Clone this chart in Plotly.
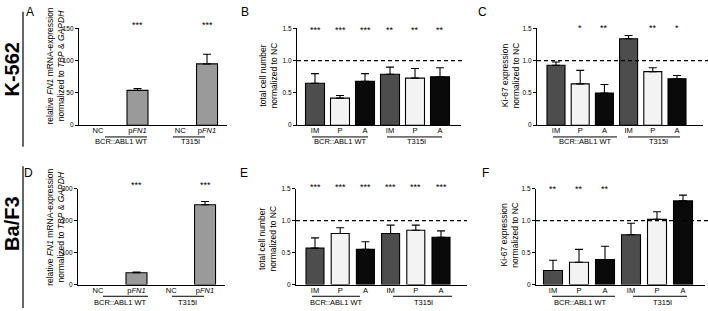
import plotly.graph_objects as go

W, H = 708, 311
FONT = "Arial, 'Liberation Sans', Helvetica, sans-serif"

# ---------------- data ----------------
fn1_cats = ["NC", "p<i>FN1</i>", "NC", "p<i>FN1</i>"]
drug_cats = ["IM", "P", "A", "IM", "P", "A"]
group_names = ["BCR::ABL1 WT", "T315I"]

a_vals = [0, 54, 0, 95]
a_err = [0, 3, 0, 15]
a_stars = ["", "***", "", "***"]

b_vals = [0.65, 0.42, 0.68, 0.79, 0.73, 0.75]
b_err = [0.15, 0.04, 0.12, 0.11, 0.15, 0.14]
b_stars = ["***", "***", "***", "**", "**", "**"]

c_vals = [0.93, 0.64, 0.50, 1.34, 0.83, 0.72]
c_err = [0.05, 0.21, 0.13, 0.05, 0.06, 0.05]
c_stars = ["", "*", "**", "", "**", "*"]

d_vals = [0, 37, 0, 250]
d_err = [0, 2, 0, 10]
d_stars = ["", "***", "", "***"]

e_vals = [0.57, 0.80, 0.55, 0.80, 0.85, 0.74]
e_err = [0.16, 0.09, 0.12, 0.13, 0.08, 0.10]
e_stars = ["***", "***", "***", "***", "***", "***"]

f_vals = [0.22, 0.35, 0.39, 0.78, 1.02, 1.31]
f_err = [0.16, 0.20, 0.21, 0.18, 0.12, 0.09]
f_stars = ["**", "**", "**", "", "", ""]

fn1_title = "relative <i>FN1</i> mRNA-expression<br>normalized to <i>TBP</i> &amp; <i>GAPDH</i>"
cell_title = "total cell number<br>normalized to NC"
ki_title = "Ki-67 expression<br>normalized to NC"
row_labels = ["K-562", "Ba/F3"]

# ---------------- styles / layout ----------------
FN1_COLORS = ["#9a9a9a"] * 4
DRUG_COLORS = ["#4d4d4d", "#f3f3f3", "#0a0a0a"] * 2


def px(x):
    return x / W


def py(y):
    return 1 - y / H


panels = [
    dict(letter="A", vals=a_vals, err=a_err, stars=a_stars, cats=fn1_cats, colors=FN1_COLORS,
         x0=79, x1=227, top=25, bottom=124, c0=98, s=39.5, slots=[0, 1, 2.08, 2.76], barw=21,
         ymax=150, yticks=[0, 50, 100, 150], yticktext=["0", "50", "100", "150"],
         title=fn1_title, tx=56, ty=64, lx=30, ly=8, stary=18, dash=None,
         glines=[(105, 147), (173, 205)], glab=[121, 190], gly=136, gty=141),
    dict(letter="B", vals=b_vals, err=b_err, stars=b_stars, cats=drug_cats, colors=DRUG_COLORS,
         x0=297, x1=461, top=25, bottom=124, c0=315, s=25, slots=[0, 1, 2, 3, 4, 5], barw=19,
         ymax=1.5, yticks=[0, 0.5, 1.0, 1.5], yticktext=["0", "0.5", "1.0", "1.5"],
         title=cell_title, tx=268, ty=73, lx=245, ly=8, stary=24, dash=(297, 463),
         glines=[(312, 368), (387, 442)], glab=[340, 416], gly=136, gty=141),
    dict(letter="C", vals=c_vals, err=c_err, stars=c_stars, cats=drug_cats, colors=DRUG_COLORS,
         x0=537, x1=703, top=25, bottom=124, c0=556, s=24.2, slots=[0, 1, 2, 3, 4, 5], barw=18,
         ymax=1.5, yticks=[0, 0.5, 1.0, 1.5], yticktext=["0", "0.5", "1.0", "1.5"],
         title=ki_title, tx=510, ty=73, lx=483, ly=8, stary=22, dash=(537, 708),
         glines=[(553, 617), (628, 680)], glab=[585, 658], gly=136, gty=141),
    dict(letter="D", vals=d_vals, err=d_err, stars=d_stars, cats=fn1_cats, colors=FN1_COLORS,
         x0=78, x1=225, top=189, bottom=287, c0=98, s=38.5, slots=[0, 1, 1.9, 2.78], barw=21,
         ymax=300, yticks=[0, 100, 200, 300], yticktext=["0", "100", "200", "300"],
         title=fn1_title, tx=56, ty=229, lx=29, ly=173, stary=182, dash=None,
         glines=[(103, 148), (172, 204)], glab=[120, 187], gly=299, gty=305),
    dict(letter="E", vals=e_vals, err=e_err, stars=e_stars, cats=drug_cats, colors=DRUG_COLORS,
         x0=296, x1=467, top=189, bottom=287, c0=315, s=25.2, slots=[0, 1, 2, 3, 4, 5], barw=18,
         ymax=1.5, yticks=[0, 0.5, 1.0, 1.5], yticktext=["0", "0.5", "1.0", "1.5"],
         title=cell_title, tx=268, ty=240, lx=244, ly=173, stary=184, dash=(296, 467),
         glines=[(312, 360), (393, 452)], glab=[336, 423], gly=299, gty=305),
    dict(letter="F", vals=f_vals, err=f_err, stars=f_stars, cats=drug_cats, colors=DRUG_COLORS,
         x0=536, x1=705, top=189, bottom=287, c0=553, s=26, slots=[0, 1, 2, 3, 4, 5], barw=19,
         ymax=1.5, yticks=[0, 0.5, 1.0, 1.5], yticktext=["0", "0.5", "1.0", "1.5"],
         title=ki_title, tx=510, ty=236, lx=485, ly=173, stary=186, dash=(536, 708),
         glines=[(552, 615), (633, 687)], glab=[580, 662], gly=299, gty=305),
]

fig = go.Figure()
annotations = []
shapes = []
layout_axes = {}

for i, p in enumerate(panels):
    k = "" if i == 0 else str(i + 1)
    xr = [(p["x0"] - p["c0"]) / p["s"], (p["x1"] - p["c0"]) / p["s"]]
    width_units = p["barw"] / p["s"]
    # zero-valued bars (NC) are not visible in the figure
    y_plot = [v if v else None for v in p["vals"]]
    err_up = [e if v else None for v, e in zip(p["vals"], p["err"])]
    err_dn = [0 if v else None for v in p["vals"]]
    fig.add_trace(go.Bar(
        x=p["slots"], y=y_plot, width=width_units,
        marker=dict(color=p["colors"], line=dict(color="black", width=1.1)),
        error_y=dict(type="data", symmetric=False, array=err_up,
                     arrayminus=err_dn, color="black", thickness=1.1, width=4),
        xaxis="x" + k, yaxis="y" + k, showlegend=False, hoverinfo="skip",
    ))
    layout_axes["xaxis" + k] = dict(
        domain=[px(p["x0"]), px(p["x1"])], range=xr, anchor="y" + k,
        showline=True, linecolor="black", linewidth=1.3, ticks="",
        tickmode="array", tickvals=p["slots"], ticktext=p["cats"],
        tickfont=dict(size=7.5, color="black", family=FONT), ticklabelstandoff=-2,
        showgrid=False, zeroline=False, fixedrange=True,
    )
    layout_axes["yaxis" + k] = dict(
        domain=[py(p["bottom"]), py(p["top"])], range=[0, p["ymax"]], anchor="x" + k,
        showline=True, linecolor="black", linewidth=1.3, ticks="outside", ticklen=3,
        tickwidth=1, tickcolor="black",
        tickmode="array", tickvals=p["yticks"], ticktext=p["yticktext"],
        tickfont=dict(size=6.5, color="black", family=FONT),
        showgrid=False, zeroline=False, fixedrange=True,
    )
    # significance stars
    for sx, st in zip(p["slots"], p["stars"]):
        if st:
            annotations.append(dict(
                x=sx, xref="x" + k, y=py(p["stary"] + 3), yref="paper",
                text=st, showarrow=False, xanchor="center", yanchor="middle",
                font=dict(size=9, color="black", family=FONT)))
    # dashed reference line
    if p["dash"]:
        shapes.append(dict(type="line", xref="paper", yref="y" + k,
                           x0=px(p["dash"][0]), x1=px(p["dash"][1]), y0=1, y1=1,
                           line=dict(color="black", width=1.3, dash="4px,3px")))
    # group lines and labels
    for (g0, g1), gc, gname in zip(p["glines"], p["glab"], group_names):
        shapes.append(dict(type="line", xref="paper", yref="paper",
                           x0=px(g0), x1=px(g1), y0=py(p["gly"]), y1=py(p["gly"]),
                           line=dict(color="black", width=1)))
        annotations.append(dict(x=px(gc), y=py(p["gty"]), xref="paper", yref="paper",
                                text=gname, showarrow=False, xanchor="center", yanchor="middle",
                                font=dict(size=7.5, color="black", family=FONT)))
    # axis title
    annotations.append(dict(x=px(p["tx"]), y=py(p["ty"]), xref="paper", yref="paper",
                            text=p["title"], textangle=-90, showarrow=False,
                            xanchor="center", yanchor="middle",
                            font=dict(size=8.5, color="black", family=FONT)))
    # panel letter
    annotations.append(dict(x=px(p["lx"]), y=py(p["ly"]), xref="paper", yref="paper",
                            text=p["letter"], showarrow=False, xanchor="center", yanchor="middle",
                            font=dict(size=12, color="black", family=FONT)))

# row labels and separators
for lab, cy, (l0, l1) in zip(row_labels, [67, 225], [(8, 146), (166, 311)]):
    annotations.append(dict(x=px(12), y=py(cy), xref="paper", yref="paper",
                            text="<b>%s</b>" % lab, textangle=-90, showarrow=False,
                            xanchor="center", yanchor="middle",
                            font=dict(size=20, color="black", family=FONT)))
    shapes.append(dict(type="line", xref="paper", yref="paper",
                       x0=px(23), x1=px(23), y0=py(l0), y1=py(l1),
                       line=dict(color="black", width=1.2)))

fig.update_layout(
    width=W, height=H, margin=dict(l=0, r=0, t=0, b=0),
    paper_bgcolor="white", plot_bgcolor="white",
    font=dict(family=FONT, color="black"),
    showlegend=False, annotations=annotations, shapes=shapes,
    **layout_axes,
)

fig.write_html("out.html")
